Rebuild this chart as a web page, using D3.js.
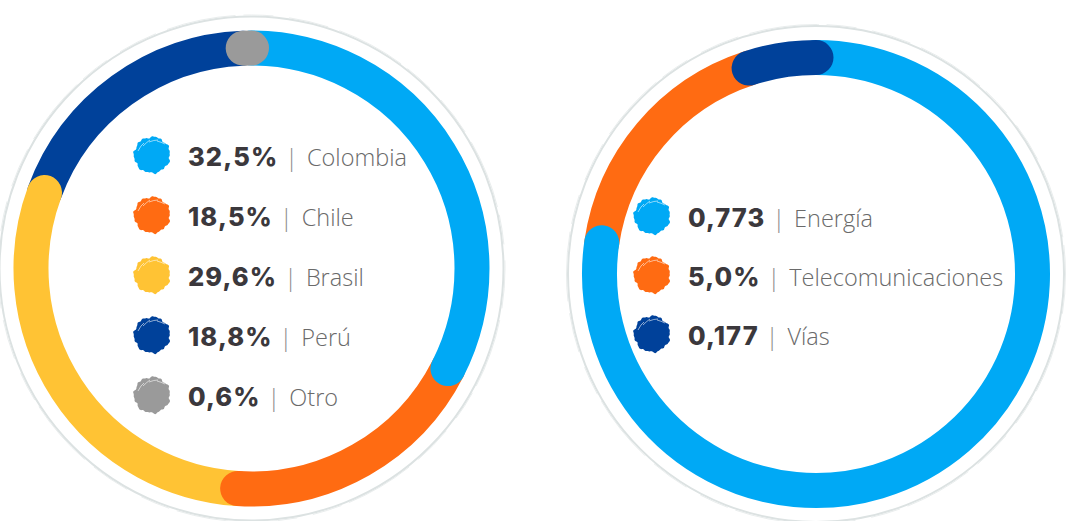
<!DOCTYPE html>
<html>
<head>
<meta charset="utf-8">
<script src="https://cdn.jsdelivr.net/npm/d3@7"></script>
<style>
  body { margin: 0; background: #fff; }
  svg { display: block; }
</style>
</head>
<body>
<div id="chart"></div>
<script>
// values
const countries = ["Colombia", "Chile", "Brasil", "Perú", "Otro"];
const countryShares = [32.5, 18.5, 29.6, 18.8, 0.6];
const countryLabels = ["32,5%", "18,5%", "29,6%", "18,8%", "0,6%"];
const countryColors = ["#00a9f5", "#ff6b12", "#ffc334", "#00419a", "#9a9a9a"];

const sectors = ["Energía", "Telecomunicaciones", "Vías"];
const sectorLabels = ["0,773", "5,0%", "0,177"];
const sectorColors = ["#00a9f5", "#ff6b12", "#00419a"];
// the right ring in the picture is drawn with these lengths / colours
const sectorArcShares = [77.3, 17.7, 5.0];
const sectorArcColors = ["#00a9f5", "#ff6b12", "#00419a"];

const width = 1080, height = 521;

const svg = d3.select("#chart").append("svg")
    .attr("width", width)
    .attr("height", height);

// ring with round caps; each piece overlaps the next one,
// the last (small) piece sits on top of everything
function drawRing(cx, cy, outerR, thick, shares, colors) {
    let g = svg.append("g").attr("transform", `translate(${cx},${cy})`);
    let r = outerR - thick / 2;

    // thin grey outline around the ring
    g.append("circle")
        .attr("r", outerR + 14)
        .attr("fill", "none")
        .attr("stroke", "#dce2e2")
        .attr("stroke-width", 2);
    g.append("circle")
        .attr("r", outerR + 15.5)
        .attr("fill", "none")
        .attr("stroke", "#e9eded")
        .attr("stroke-width", 1)
        .attr("stroke-dasharray", "40 12 70 8 30 16");

    let arcs = d3.pie().sort(null).value(d => d)(shares);
    arcs.forEach((a, i) => a.color = colors[i]);
    let order = arcs.slice(0, -1).reverse().concat(arcs.slice(-1));

    g.selectAll("path.seg")
        .data(order)
        .join("path")
        .attr("class", "seg")
        .attr("d", d => {
            let p = d3.path();
            p.moveTo(r * Math.sin(d.startAngle), -r * Math.cos(d.startAngle));
            p.arc(0, 0, r, d.startAngle - Math.PI / 2, d.endAngle - Math.PI / 2);
            return p.toString();
        })
        .attr("fill", "none")
        .attr("stroke", d => d.color)
        .attr("stroke-width", thick)
        .attr("stroke-linecap", "round");
}

// blotchy paint dot used in the legend
const blob = d3.lineRadial()
    .angle(d => d)
    .radius(d => 18 * (1 + 0.035 * Math.sin(7 * d) + 0.03 * Math.sin(13 * d + 1) + 0.02 * Math.sin(23 * d + 2)))
    .curve(d3.curveCardinalClosed);
const blobAngles = d3.range(0, 2 * Math.PI, Math.PI / 40);

function drawLegend(x0, y0, step, textX, values, names, colors) {
    let g = svg.append("g");
    let rows = g.selectAll("g.row")
        .data(names)
        .join("g")
        .attr("class", "row")
        .attr("transform", (d, i) => `translate(0,${y0 + i * step})`);

    rows.append("path")
        .attr("transform", `translate(${x0},0)`)
        .attr("d", blob(blobAngles))
        .attr("fill", (d, i) => colors[i]);

    // little white scratches at the top-left of each dot
    rows.append("path")
        .attr("transform", `translate(${x0},0)`)
        .attr("d", "M-14,-4 q3,-6 6,-8 M-9,-9 q4,-4 7,-6 M-3,-13 q5,-2 9,-2 M5,-14 q4,1 8,3")
        .attr("fill", "none")
        .attr("stroke", "#fff")
        .attr("stroke-width", 0.8)
        .attr("opacity", 0.7);

    let txt = rows.append("text")
        .attr("x", textX)
        .attr("y", 10.5);
    txt.append("tspan")
        .attr("font-family", "Inter, 'DejaVu Sans', sans-serif")
        .attr("font-weight", 800)
        .attr("font-size", 25.5)
        .attr("letter-spacing", 1.1)
        .attr("fill", "#3b383c")
        .text((d, i) => values[i]);
    txt.append("tspan")
        .attr("dx", 7)
        .attr("font-family", "'Open Sans', sans-serif")
        .attr("font-weight", 300)
        .attr("font-size", 23.5)
        .attr("fill", "#8a8a8a")
        .text("|");
    txt.append("tspan")
        .attr("dx", 9)
        .attr("font-family", "'Open Sans', sans-serif")
        .attr("font-weight", 300)
        .attr("font-size", 23.5)
        .attr("fill", "#6a6a6a")
        .text(d => d);
}

drawRing(251.5, 268.5, 238, 35, countryShares, countryColors);
drawRing(816, 274, 234, 35, sectorArcShares, sectorArcColors);

drawLegend(152, 155, 60, 188, countryLabels, countries, countryColors);
drawLegend(652, 216, 59, 688, sectorLabels, sectors, sectorColors);
</script>
</body>
</html>
